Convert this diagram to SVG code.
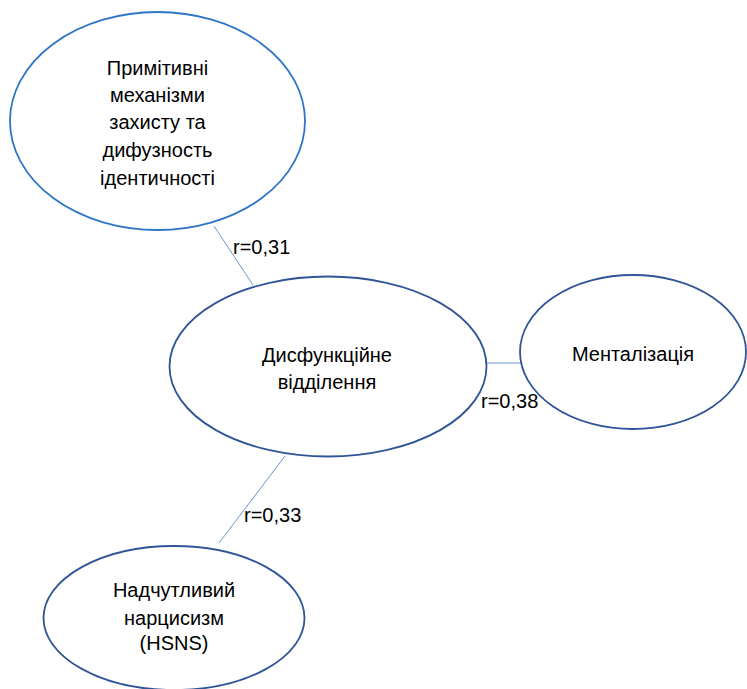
<svg xmlns="http://www.w3.org/2000/svg" width="747" height="689" viewBox="0 0 747 689">
<style>
.node{fill:#ffffff;stroke:#2F5597;stroke-width:1.8}
.node.top{stroke:#2E75C6}
.lbl{font-family:"Liberation Sans",Arial,sans-serif;font-size:20px;fill:#000000;text-anchor:middle}
.edge{stroke:#6A93D4;stroke-width:1;fill:none}
.elbl{font-family:"Liberation Sans",Arial,sans-serif;font-size:20px;fill:#000000}
</style>
<rect width="747" height="689" fill="#ffffff"/>
<g id="connectors">
<line class="edge" x1="214" y1="226" x2="253" y2="285"/>
<line class="edge" x1="486" y1="363" x2="521" y2="363"/>
<line class="edge" x1="285" y1="456" x2="219" y2="543"/>
<text class="elbl" x="233" y="254">r=0,31</text>
<text class="elbl" x="481" y="408">r=0,38</text>
<text class="elbl" x="244" y="522">r=0,33</text>
</g>
<g id="node-primitive">
<ellipse class="node top" cx="157.5" cy="121" rx="147.5" ry="109"/>
<text class="lbl" x="157.5" y="75">Примітивні</text>
<text class="lbl" x="157.5" y="102">механізми</text>
<text class="lbl" x="157.5" y="129">захисту та</text>
<text class="lbl" x="157.5" y="157">дифузность</text>
<text class="lbl" x="157.5" y="185">ідентичності</text>
</g>
<g id="node-dysfunctional">
<ellipse class="node" cx="328" cy="366.5" rx="158.5" ry="90"/>
<text class="lbl" x="327" y="362">Дисфункційне</text>
<text class="lbl" x="327" y="389">відділення</text>
</g>
<g id="node-mentalization">
<ellipse class="node" cx="633" cy="352" rx="113" ry="77"/>
<text class="lbl" x="633" y="361">Менталізація</text>
</g>
<g id="node-hsns">
<ellipse class="node" cx="174" cy="618" rx="130.5" ry="72"/>
<text class="lbl" x="174" y="597">Надчутливий</text>
<text class="lbl" x="174" y="625">нарцисизм</text>
<text class="lbl" x="174" y="650">(HSNS)</text>
</g>
</svg>
